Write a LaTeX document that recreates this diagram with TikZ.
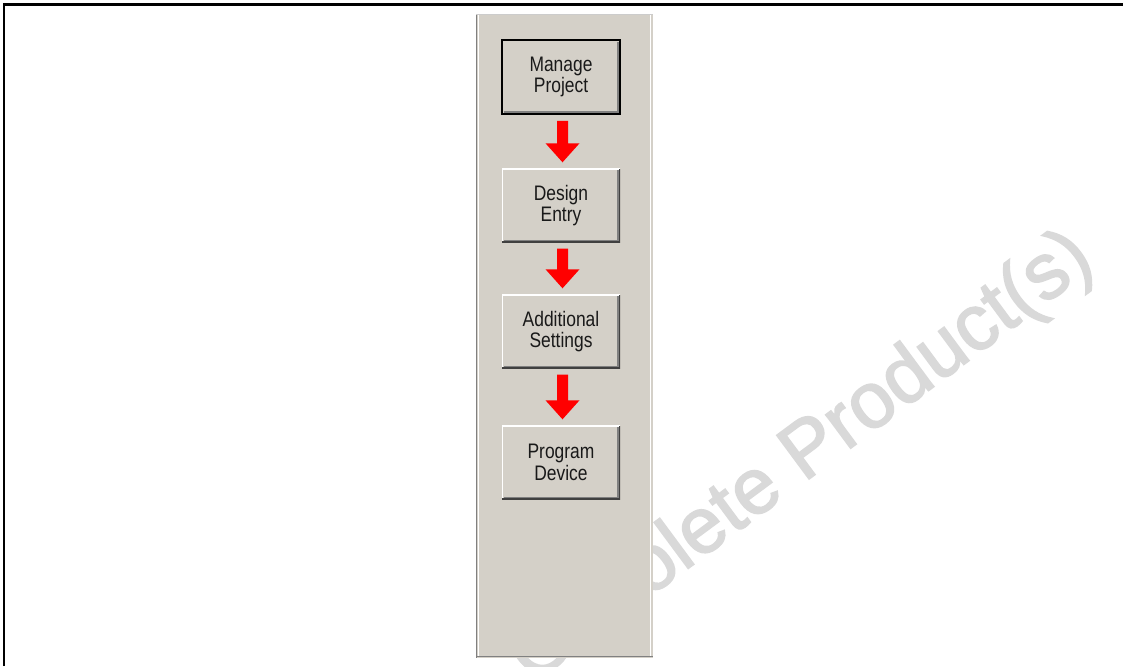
\documentclass[tikz,border=0pt]{standalone}
\usepackage{fontspec}
\usepackage{tikz}
\usetikzlibrary{calc}
\newfontfamily\btnfont[FakeStretch=0.83]{Liberation Sans}
\newfontfamily\markfont[FakeBold=2]{Liberation Sans}
\definecolor{panelgray}{HTML}{D4D0C8}
\definecolor{btndark}{HTML}{404040}
\definecolor{btnshade}{HTML}{808080}
\definecolor{markgray}{HTML}{D9D9D9}
\tikzset{
	btn/.style={fill=panelgray, minimum width=118pt, minimum height=74pt, inner sep=0pt,
		align=center, text=black!90, font=\btnfont\fontsize{21}{21.7}\selectfont,
		path picture={
			\coordinate (sw) at (path picture bounding box.south west);
			\coordinate (ne) at (path picture bounding box.north east);
			\draw[white, line width=2pt] (sw) |- (ne);
			\draw[btndark, line width=2.4pt] (sw) -| (ne);
			\draw[btnshade, line width=1.5pt] ($(sw)+(1.8,-1.8)$) -| ($(ne)+(-1.8,1.8)$);
		}},
	defbtn/.style={btn, draw=black, line width=1.5pt},
	flowarrow/.style={fill=red}
}
% block arrow from one button down to the next
\newcommand{\flowarr}[2]{%
	\fill[flowarrow] let \p1=($(#1.south)+(1.5,6)$), \p2=($(#2.north)+(1.5,-6)$) in
		(\x1-5.5pt,\y1) -- (\x1+5.5pt,\y1) -- (\x1+5.5pt,\y2+19pt) -- (\x1+17pt,\y2+19pt)
		-- (\x1,\y2) -- (\x1-17pt,\y2+19pt) -- (\x1-5.5pt,\y2+19pt) -- cycle;}

\begin{document}
\begin{tikzpicture}[x=1pt,y=-1pt] %Ablauf
		\useasboundingbox (0,0) rectangle (1123,666);
		\clip (0,0) rectangle (1123,666);
		% watermark
		\node[rotate=36.5, anchor=base west, text=markgray, font=\markfont\fontsize{79}{79}\selectfont, inner sep=0pt] (mark) at (532,684) {Obsolete Product(s)};
		% frame
		\draw[line width=2.5pt] (4.2,666) |- (1123,4.75);
		% toolbar panel
		\fill[panelgray] (476,14) rectangle (653,658);
		\draw[btnshade, line width=1pt] (476.5,14) -- (476.5,658);
		\draw[white, line width=1pt] (478.5,14) -- (478.5,656);
		\draw[white, line width=1pt] (650.5,14) -- (650.5,656);
		\draw[black!20, line width=1pt] (476,14.5) -- (653,14.5);
		\draw[btnshade, line width=1.2pt] (476,656.6) -- (653,656.6);
		% buttons
		\node[defbtn] (manage) at (561,77) {Manage\\Project};
		\node[btn] (design) at (561,205.5) {Design\\Entry};
		\node[btn] (settings) at (561,331.5) {Additional\\Settings};
		\node[btn] (program) at (561,462.5) {Program\\Device};
		% arrows
		\flowarr{manage}{design}
		\flowarr{design}{settings}
		\flowarr{settings}{program}
		\end{tikzpicture}
\end{document}
